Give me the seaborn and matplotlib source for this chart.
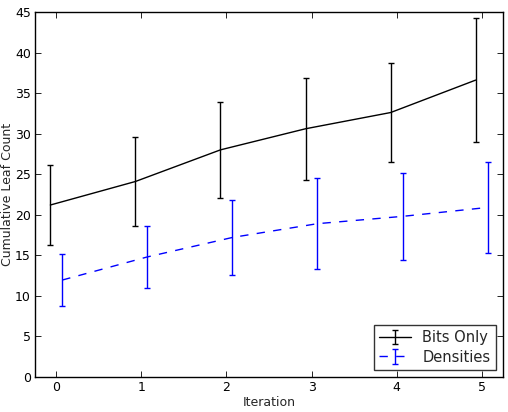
import numpy as np
import pandas as pd
import matplotlib
matplotlib.use("Agg")
import matplotlib.pyplot as plt
import seaborn as sns

iterations = [0, 1, 2, 3, 4, 5]
bits_mean = [21.2, 24.1, 28.0, 30.6, 32.6, 36.6]
bits_err = [4.9, 5.45, 5.9, 6.3, 6.15, 7.65]
dens_mean = [11.95, 14.8, 17.2, 18.9, 19.8, 20.9]
dens_err = [3.25, 3.85, 4.6, 5.6, 5.4, 5.6]

sns.set_theme(style="ticks", rc={
    "xtick.direction": "in", "ytick.direction": "in",
    "xtick.top": True, "ytick.right": True,
    "xtick.major.size": 4, "ytick.major.size": 4,
    "xtick.major.width": 0.6, "ytick.major.width": 0.6,
    "axes.linewidth": 1.0,
})
plt.rcParams["font.family"] = ["DejaVu Sans"]

df = pd.DataFrame({"Iteration": iterations, "bits": bits_mean, "dens": dens_mean})

fig = plt.figure(figsize=(5.08, 4.12), dpi=100)
ax = fig.add_axes([0.069, 0.085, 0.921, 0.886])

x = np.array(iterations, dtype=float)
ax.errorbar(x - 0.07, df["bits"], yerr=bits_err, color="black", lw=1.0,
            elinewidth=1.0, capsize=2.5, label="Bits Only")
eb = ax.errorbar(x + 0.07, df["dens"], yerr=dens_err, color="blue", lw=1.0,
                 ls="--", elinewidth=1.0, capsize=2.5, label="Densities")
eb.lines[0].set_dashes([6, 6])

ax.set_xlim(-0.25, 5.25)
ax.set_ylim(0, 45)
ax.set_xticks(iterations)
ax.set_yticks(range(0, 46, 5))
ax.tick_params(labelsize=9, colors="black", pad=3)
ax.set_xlabel("Iteration", fontsize=9, labelpad=1)
ax.set_ylabel("Cumulative Leaf Count", fontsize=9, labelpad=1)
for s in ax.spines.values():
    s.set_color("black")

leg = ax.legend(loc="lower right", fontsize=10.5, frameon=True, fancybox=False,
                handlelength=2.2, borderpad=0.35, labelspacing=0.3)
leg.get_frame().set_edgecolor("black")
leg.get_frame().set_linewidth(1.0)

fig.savefig("out.png", dpi=100)
